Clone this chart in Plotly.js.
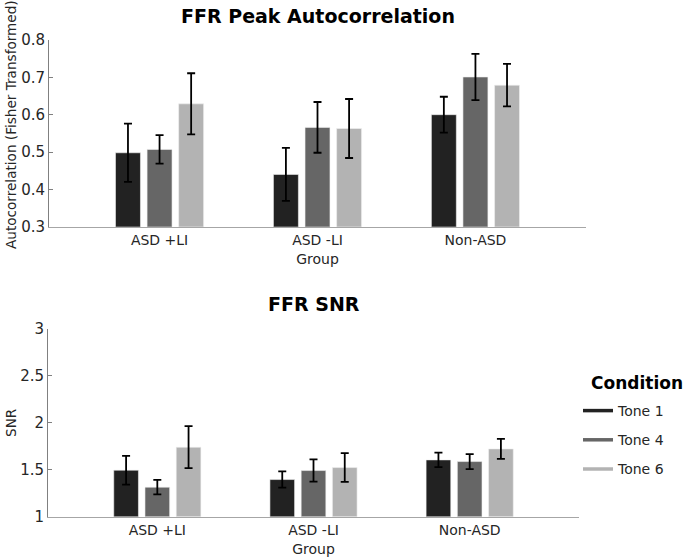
<!DOCTYPE html>
<html>
<head>
<meta charset="utf-8">
<script src="https://cdn.plot.ly/plotly-3.0.1.min.js"></script>
<style>html,body{margin:0;padding:0;background:#fff;}</style>
</head>
<body>
<div id="chart" style="width:685px;height:560px;"></div>
<script>
const groups = ["ASD +LI", "ASD -LI", "Non-ASD"];
const conditions = ["Tone 1", "Tone 4", "Tone 6"];
const colors = ["#222222", "#666666", "#b3b3b3"];

// FFR Peak Autocorrelation (Fisher transformed): means and error half-widths
const acTone1 = [0.498, 0.440, 0.600];
const acTone4 = [0.507, 0.566, 0.701];
const acTone6 = [0.629, 0.563, 0.679];
const acErr1 = [0.078, 0.071, 0.048];
const acErr4 = [0.038, 0.068, 0.062];
const acErr6 = [0.082, 0.079, 0.057];

// FFR SNR: means and error half-widths
const snrTone1 = [1.494, 1.394, 1.604];
const snrTone4 = [1.313, 1.490, 1.586];
const snrTone6 = [1.739, 1.522, 1.721];
const snrErr1 = [0.153, 0.087, 0.077];
const snrErr4 = [0.078, 0.119, 0.080];
const snrErr6 = [0.224, 0.153, 0.107];

const acVals = [acTone1, acTone4, acTone6];
const acErrs = [acErr1, acErr4, acErr6];
const snrVals = [snrTone1, snrTone4, snrTone6];
const snrErrs = [snrErr1, snrErr4, snrErr6];

const FONT = "DejaVu Sans";
const traces = [];
function addBars(vals, errs, xa, ya) {
  for (let i = 0; i < 3; i++) {
    traces.push({
      type: "bar", x: groups, y: vals[i], name: conditions[i],
      xaxis: xa, yaxis: ya, showlegend: false,
      marker: {color: colors[i], line: {color: "#f0f0f0", width: 0.6}},
      error_y: {type: "data", array: errs[i], visible: true, color: "#000000", thickness: 1.8, width: 4}
    });
  }
}
addBars(acVals, acErrs, "x", "y");
addBars(snrVals, snrErrs, "x2", "y2");
// legend-only line entries (no visible data points)
for (let i = 0; i < 3; i++) {
  traces.push({
    type: "scatter", mode: "lines", x: [groups[0], groups[0]], y: [null, null], name: conditions[i],
    xaxis: "x2", yaxis: "y2", legendgroup: "g" + i, connectgaps: false,
    line: {color: colors[i], width: 3.5}, showlegend: true, hoverinfo: "skip"
  });
}

const W = 685, H = 560;
const axisCommon = {
  showgrid: false, zeroline: false, showline: true,
  tickfont: {family: FONT, size: 14, color: "#262626"}
};
const layout = {
  width: W, height: H,
  margin: {l: 0, r: 0, t: 0, b: 0},
  paper_bgcolor: "#ffffff", plot_bgcolor: "#ffffff",
  font: {family: FONT, color: "#262626"},
  barmode: "group", bargap: 0.4, bargroupgap: 0.21,
  xaxis: Object.assign({}, axisCommon, {
    domain: [49 / W, 586 / W], anchor: "y", type: "category", range: [-0.7, 2.7],
    linecolor: "#a6a6a6", linewidth: 1.5, ticks: "",
    title: {text: "Group", font: {family: FONT, size: 14, color: "#262626"}, standoff: 7}
  }),
  yaxis: Object.assign({}, axisCommon, {
    domain: [1 - 226.7 / H, 1 - 40 / H], anchor: "x", range: [0.3, 0.8], dtick: 0.1,
    tickformat: ".1f",
    linecolor: "#808080", linewidth: 1, ticks: "inside", ticklen: 4, tickcolor: "#808080",
    tickfont: {family: FONT, size: 15, color: "#262626"}
  }),
  xaxis2: Object.assign({}, axisCommon, {
    domain: [48 / W, 579 / W], anchor: "y2", type: "category", range: [-0.7, 2.7],
    linecolor: "#a6a6a6", linewidth: 1.5, ticks: "",
    title: {text: "Group", font: {family: FONT, size: 14, color: "#262626"}, standoff: 7}
  }),
  yaxis2: Object.assign({}, axisCommon, {
    domain: [1 - 516.5 / H, 1 - 329 / H], anchor: "x2", range: [1, 3], dtick: 0.5,
    linecolor: "#808080", linewidth: 1, ticks: "inside", ticklen: 4, tickcolor: "#808080",
    tickfont: {family: FONT, size: 15, color: "#262626"}
  }),
  legend: {
    x: 578 / W, xanchor: "left", y: 1 - 395 / H, yanchor: "top",
    bgcolor: "rgba(0,0,0,0)", borderwidth: 0,
    font: {family: FONT, size: 14, color: "#262626"},
    traceorder: "grouped", tracegroupgap: 8, itemwidth: 30
  },
  annotations: [
    {text: "<b>FFR Peak Autocorrelation</b>", xref: "paper", yref: "paper",
     x: (49 + 586) / 2 / W, y: 1 - 16 / H, xanchor: "center", yanchor: "middle", showarrow: false,
     font: {family: FONT, size: 19, color: "#000000"}},
    {text: "<b>FFR SNR</b>", xref: "paper", yref: "paper",
     x: (48 + 579) / 2 / W, y: 1 - 304 / H, xanchor: "center", yanchor: "middle", showarrow: false,
     font: {family: FONT, size: 19, color: "#000000"}},
    {text: "Autocorrelation (Fisher Transformed)", xref: "paper", yref: "paper", textangle: -90,
     x: 11 / W, y: 1 - 125 / H, xanchor: "center", yanchor: "middle", showarrow: false,
     font: {family: FONT, size: 13.6, color: "#262626"}},
    {text: "SNR", xref: "paper", yref: "paper", textangle: -90,
     x: 11 / W, y: 1 - 423 / H, xanchor: "center", yanchor: "middle", showarrow: false,
     font: {family: FONT, size: 13.6, color: "#262626"}},
    {text: "<b>Condition</b>", xref: "paper", yref: "paper",
     x: 589 / W, y: 1 - 383 / H, xanchor: "left", yanchor: "middle", showarrow: false,
     font: {family: FONT, size: 17, color: "#000000"}}
  ]
};
Plotly.newPlot("chart", traces, layout, {displayModeBar: false, staticPlot: true});
</script>
</body>
</html>
